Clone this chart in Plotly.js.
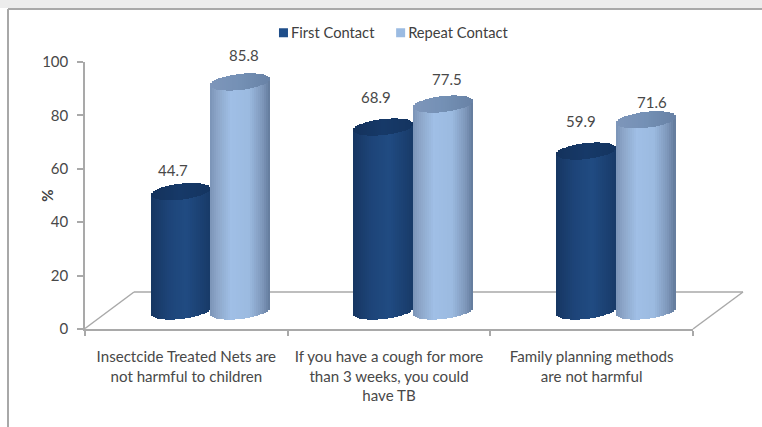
<!DOCTYPE html>
<html>
<head>
<meta charset="utf-8">
<script src="https://cdn.plot.ly/plotly-3.0.1.min.js"></script>
<style>html,body{margin:0;padding:0;background:#fff}</style>
</head>
<body>
<div id="chart" style="width:762px;height:427px"></div>
<script>
const categories = [
  "Insectcide Treated Nets are<br>not harmful to children",
  "If you have a cough for more<br>than 3 weeks, you could<br>have TB",
  "Family planning methods<br>are not harmful"
];
const firstContact = [44.7, 68.9, 59.9];
const repeatContact = [85.8, 77.5, 71.6];
const yTicks = [0, 20, 40, 60, 80, 100];

const W = 762, H = 427;
const L = 85, R = 693, T = 62, B = 329;
const px = x => (x - L) / (R - L);
const py = y => (B - y) / (B - T);

// Cylinder geometry (axis units of the depth-shifted axes)
const STRIPS = 30, TILT = 1.2, HALF = 3.0, BARW = 0.294;
const groupCenters = [0, 1, 2];

function ramp(stops, t) {
  for (let i = 1; i < stops.length; i++) {
    if (t <= stops[i][0]) {
      const a = stops[i-1], b = stops[i], k = (t - a[0]) / (b[0] - a[0]);
      const c = [0,1,2].map(j => Math.round(a[1][j] + (b[1][j] - a[1][j]) * k));
      return `rgb(${c[0]},${c[1]},${c[2]})`;
    }
  }
  return 'rgb(0,0,0)';
}
const darkBody  = [[0,[22,54,98]],[0.3,[29,68,120]],[0.6,[32,75,130]],[1,[24,58,104]]];
const darkCap   = [[0,[20,50,92]],[0.5,[22,57,104]],[1,[20,52,96]]];
const lightBody = [[0,[122,147,182]],[0.12,[140,166,200]],[0.35,[160,191,230]],[0.65,[155,186,224]],[0.88,[125,150,185]],[1,[98,122,155]]];
const lightCap  = [[0,[126,150,186]],[0.5,[116,144,181]],[1,[104,130,165]]];

function cylinders(values, side, body, cap) {
  const bx = [], bb = [], by = [], bc = [], cb = [], cy = [], cc = [];
  const sw = BARW / STRIPS;
  values.forEach((v, g) => {
    const c = groupCenters[g] + side * BARW / 2;
    for (let i = 0; i < STRIPS; i++) {
      const t = (i + 0.5) / STRIPS, u = 2 * t - 1;
      const s = Math.sqrt(1 - u * u), low = TILT * u - HALF * s;
      bx.push(c + u * BARW / 2);
      bb.push(low); by.push(v); bc.push(ramp(body, t));
      cb.push(v + low); cy.push(2 * HALF * s); cc.push(ramp(cap, t));
    }
  });
  const common = {type:'bar', x:bx, xaxis:'x2', yaxis:'y2', width:sw*1.25, hoverinfo:'skip', showlegend:false};
  return [
    Object.assign({}, common, {base:bb, y:by, marker:{color:bc, line:{width:0}}}),
    Object.assign({}, common, {base:cb, y:cy, marker:{color:cc, line:{width:0}}})
  ];
}
function series(name, values, side, color) {
  return {type:'bar', name:name, x:groupCenters.map(c => c + side*BARW/2), y:values,
          xaxis:'x2', yaxis:'y2', width:BARW*0.5, marker:{color:color, line:{width:0}},
          hoverinfo:'skip'};
}
const axisTrace = {type:'scatter', x:categories, y:[0,0,0], mode:'none', showlegend:false, hoverinfo:'skip'};

const data = [
  axisTrace,
  series('First Contact', firstContact, -1, '#1f4e8a'),
  series('Repeat Contact', repeatContact, 1, '#9bbbe2'),
  ...cylinders(firstContact, -1, darkBody, darkCap),
  ...cylinders(repeatContact, 1, lightBody, lightCap)
];

const labelDx = [[-7.5,-7.5,-5],[3.5,3.5,6]];
const labelDy = [[22,30,30.5],[26.5,25.5,18]];
const annotations = [];
[firstContact, repeatContact].forEach((vals, k) => vals.forEach((v, g) => {
  annotations.push({xref:'x2', yref:'y2', x:groupCenters[g] + (k?1:-1)*BARW/2, y:v, text:v.toFixed(1),
    showarrow:false, xshift:labelDx[k][g], yshift:labelDy[k][g],
    font:{family:'Lato', size:15, color:'#484848'}});
}));

const gray = '#a9a9a9';
const line = (x0,y0,x1,y1,c,w) => ({type:'line', xref:'paper', yref:'paper', layer:'below',
  x0:px(x0), y0:py(y0), x1:px(x1), y1:py(y1), line:{color:c||gray, width:w||1.5}});
const shapes = [
  {type:'rect', xref:'paper', yref:'paper', layer:'below', x0:px(0), x1:px(W), y0:py(0), y1:py(8),
   fillcolor:'#ececec', line:{width:0}},
  line(8,9,W,9,'#a8a8a8',2),
  line(8,9,8,H,'#a8a8a8',2),
  line(85,328.5,134,292),
  line(134,292,743,292),
  line(743,292,693,329)
];

const layout = {
  width:W, height:H, autosize:false,
  margin:{l:L, r:W-R, t:T, b:H-B, pad:0},
  paper_bgcolor:'#ffffff', plot_bgcolor:'rgba(0,0,0,0)',
  barmode:'overlay', bargap:0,
  font:{family:'Lato', color:'#484848', size:14},
  showlegend:true,
  legend:{orientation:'h', x:0.273, y:1.108, xanchor:'left', yanchor:'middle',
          font:{family:'Lato', size:14.7, color:'#404040'}, bgcolor:'rgba(0,0,0,0)', traceorder:'normal'},
  xaxis:{type:'category', categoryorder:'array', categoryarray:categories, range:[-0.5,2.5], tickson:'boundaries',
         showgrid:false, zeroline:false, showline:true, linecolor:gray, linewidth:1.5,
         ticks:'outside', ticklen:5, tickwidth:1.5, tickcolor:gray, tickangle:0, ticklabelstandoff:13,
         tickfont:{family:'Lato', size:15.1, color:'#484848'}, fixedrange:true},
  yaxis:{range:[0,100], tickmode:'array', tickvals:yTicks, ticktext:yTicks.map(String),
         showgrid:false, zeroline:false, showline:true, linecolor:gray, linewidth:1.5,
         ticks:'outside', ticklen:6, tickwidth:1.5, tickcolor:gray, ticklabelstandoff:6,
         tickfont:{family:'Lato', size:15, color:'#484848'}, fixedrange:true},
  xaxis2:{overlaying:'x', range:[-0.619,2.38], visible:false, fixedrange:true},
  yaxis2:{overlaying:'y', side:'left', range:[-6.74,93.26], showticklabels:false, ticks:'', showline:false,
          showgrid:false, zeroline:false, fixedrange:true,
          title:{text:'%', standoff:26, font:{family:'Lato', size:15, color:'#404040', weight:'bold'}}},
  annotations:annotations,
  shapes:shapes
};
Plotly.newPlot('chart', data, layout, {displayModeBar:false}).then(() => {
  document.querySelectorAll('.legend .legendsymbols path').forEach(p => {
    p.setAttribute('d', 'M4.5,4.5H-4.5V-4.5H4.5Z');
    p.setAttribute('transform', 'translate(32.5,0)');
  });
  const items = document.querySelectorAll('.legend .traces');
  if (items.length === 2) {
    const m = /translate\(\s*([-\d.]+)[ ,]+([-\d.]+)/.exec(items[1].getAttribute('transform') || '');
    if (m) items[1].setAttribute('transform', `translate(${parseFloat(m[1]) - 12},${m[2]})`);
  }
});
</script>
</body>
</html>
